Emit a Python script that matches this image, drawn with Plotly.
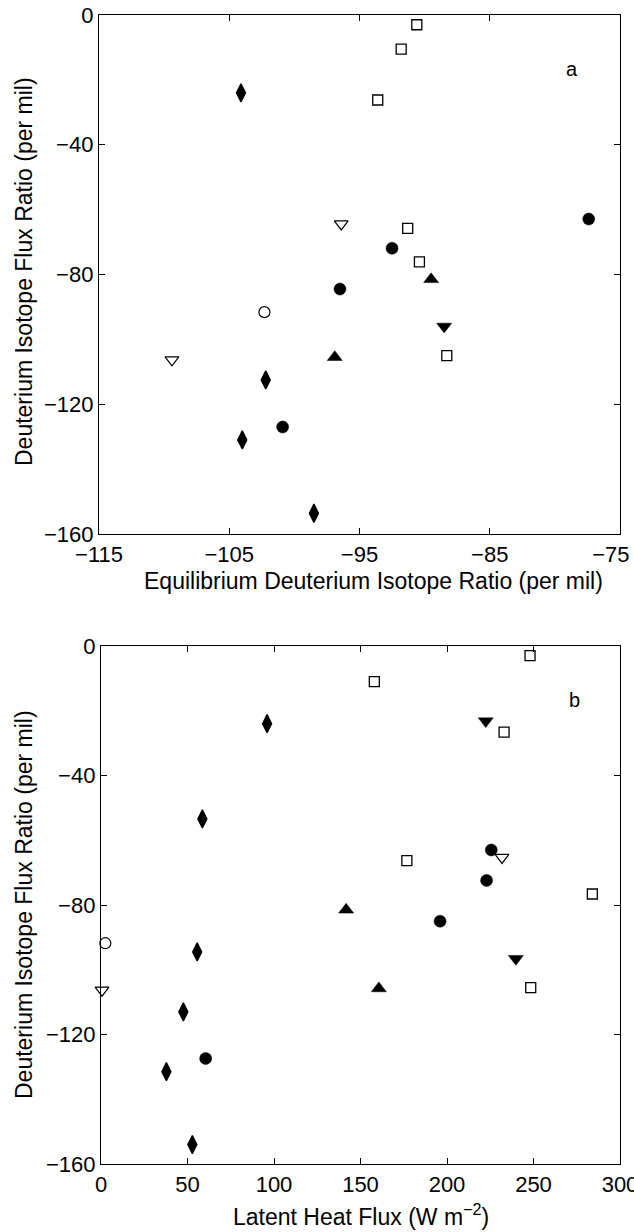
import plotly.graph_objects as go

# ---------------- Panel a data: Equilibrium ratio vs flux ratio ----------------
a_diamond_x = [-104.1, -102.2, -104.0, -98.5]
a_diamond_y = [-24.0, -112.5, -131.0, -153.6]
a_square_x = [-90.6, -91.8, -93.6, -91.3, -90.4, -88.3]
a_square_y = [-3.0, -10.5, -26.2, -65.8, -76.1, -105.0]
a_circle_x = [-77.4, -92.5, -96.5, -100.9]
a_circle_y = [-62.9, -71.9, -84.5, -127.0]
a_ocircle_x = [-102.3]
a_ocircle_y = [-91.6]
a_otridown_x = [-96.4, -109.4]
a_otridown_y = [-64.4, -106.3]
a_triup_x = [-89.5, -96.9]
a_triup_y = [-81.5, -105.5]
a_tridown_x = [-88.5]
a_tridown_y = [-96.0]

# ---------------- Panel b data: latent heat flux vs flux ratio ----------------
b_diamond_x = [96, 58.6, 55.6, 47.6, 37.8, 52.8]
b_diamond_y = [-24.0, -53.4, -94.5, -113.0, -131.5, -154.0]
b_square_x = [248, 158, 233, 176.8, 284, 248.4]
b_square_y = [-3.0, -11.0, -26.6, -66.3, -76.6, -105.5]
b_circle_x = [225.6, 222.9, 196, 60.5]
b_circle_y = [-63.0, -72.4, -85.0, -127.4]
b_ocircle_x = [2.5]
b_ocircle_y = [-91.8]
b_otridown_x = [231.8, 0.6]
b_otridown_y = [-65.3, -106.3]
b_triup_x = [141.7, 160.6]
b_triup_y = [-81.5, -105.8]
b_tridown_x = [222.4, 239.8]
b_tridown_y = [-23.2, -96.6]

a_xticks = [-115, -105, -95, -85, -75]
a_xticklabels = ["−115", "−105", "−95", "−85", "−75\u00a0\u00a0\u00a0"]
b_xticks = [0, 50, 100, 150, 200, 250, 300]
yticks = [0, -40, -80, -120, -160]

FONT = "Liberation Sans, Arial, Helvetica, sans-serif"
W, H = 634, 1232

styles = [
    ("diamond", "diamond-tall", 13, "black", 1.3, "black"),
    ("square", "square-open", 10, "black", 1.3, "black"),
    ("circle", "circle", 12, "black", 0.5, "black"),
    ("ocircle", "circle-open", 11, "black", 1.2, "black"),
    ("otridown", "triangle-down-open", 12, "black", 1.2, "black"),
    ("triup", "triangle-up", 13, "black", 0.5, "black"),
    ("tridown", "triangle-down", 13, "black", 0.5, "black"),
]

data_a = {
    "diamond": (a_diamond_x, a_diamond_y), "square": (a_square_x, a_square_y),
    "circle": (a_circle_x, a_circle_y), "ocircle": (a_ocircle_x, a_ocircle_y),
    "otridown": (a_otridown_x, a_otridown_y), "triup": (a_triup_x, a_triup_y),
    "tridown": (a_tridown_x, a_tridown_y),
}
data_b = {
    "diamond": (b_diamond_x, b_diamond_y), "square": (b_square_x, b_square_y),
    "circle": (b_circle_x, b_circle_y), "ocircle": (b_ocircle_x, b_ocircle_y),
    "otridown": (b_otridown_x, b_otridown_y), "triup": (b_triup_x, b_triup_y),
    "tridown": (b_tridown_x, b_tridown_y),
}

fig = go.Figure()
for key, sym, size, color, lw, lc in styles:
    for data, xa, ya in ((data_a, "x", "y"), (data_b, "x2", "y2")):
        xs, ys = data[key]
        fig.add_trace(go.Scatter(
            x=xs, y=ys, mode="markers", xaxis=xa, yaxis=ya, showlegend=False,
            cliponaxis=False,
            marker=dict(symbol=sym, size=size, color=color,
                        line=dict(color=lc, width=lw)),
        ))

def px_x(p):
    return p / W

def px_y(p):
    return 1 - p / H

axis_common = dict(
    showline=True, linecolor="black", linewidth=1.3, mirror="ticks",
    ticks="inside", ticklen=6, tickwidth=1.2, tickcolor="black",
    showgrid=False, zeroline=False, automargin=False,
    ticklabeloverflow="allow",
    tickfont=dict(family=FONT, size=22, color="black"),
)

fig.update_layout(
    template="none",
    width=W, height=H, margin=dict(l=0, r=0, t=0, b=0, autoexpand=False),
    paper_bgcolor="white", plot_bgcolor="white",
    font=dict(family=FONT, color="black"),
    xaxis=dict(domain=[px_x(99), px_x(620)], anchor="y", range=[-115, -75],
               tickvals=a_xticks, ticktext=a_xticklabels, **axis_common),
    yaxis=dict(domain=[px_y(534), px_y(15)], anchor="x", range=[-160, 0],
               tickvals=yticks, **axis_common),
    xaxis2=dict(domain=[px_x(101), px_x(620)], anchor="y2", range=[0, 300],
                tickvals=b_xticks, **axis_common),
    yaxis2=dict(domain=[px_y(1164), px_y(646)], anchor="x2", range=[-160, 0],
                tickvals=yticks, **axis_common),
)

ann_font = dict(family=FONT, size=23, color="black")
annotations = [
    dict(text="Equilibrium Deuterium Isotope Ratio (per mil)", x=px_x(373), y=px_y(581),
         xref="paper", yref="paper", showarrow=False, font=ann_font,
         xanchor="center", yanchor="middle"),
    dict(text="Deuterium Isotope Flux Ratio (per mil)", x=px_x(24), y=px_y(272),
         xref="paper", yref="paper", showarrow=False, font=ann_font, textangle=-90,
         xanchor="center", yanchor="middle"),
    dict(text="Latent Heat Flux (W m<sup>−2</sup>)", x=px_x(361), y=px_y(1215),
         xref="paper", yref="paper", showarrow=False, font=ann_font,
         xanchor="center", yanchor="middle"),
    dict(text="Deuterium Isotope Flux Ratio (per mil)", x=px_x(24), y=px_y(905),
         xref="paper", yref="paper", showarrow=False, font=ann_font, textangle=-90,
         xanchor="center", yanchor="middle"),
    dict(text="a", x=px_x(572), y=px_y(69), xref="paper", yref="paper",
         showarrow=False, font=dict(family=FONT, size=20, color="black"),
         xanchor="center", yanchor="middle"),
    dict(text="b", x=px_x(574), y=px_y(700), xref="paper", yref="paper",
         showarrow=False, font=dict(family=FONT, size=20, color="black"),
         xanchor="center", yanchor="middle"),
]
fig.update_layout(annotations=annotations)

fig.write_html("out.html")
